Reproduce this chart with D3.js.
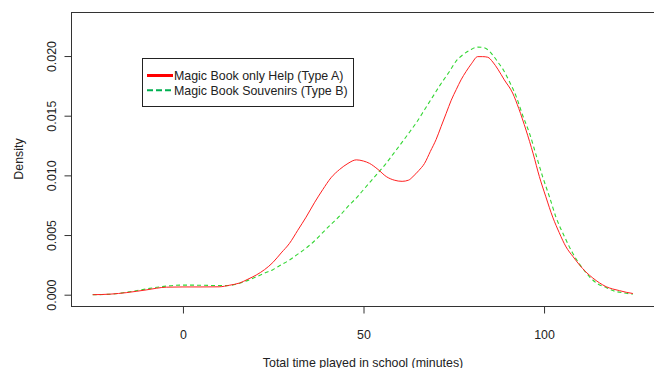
<!DOCTYPE html>
<html lang="en">
<head>
    <meta charset="UTF-8">
    <title>Density of time played</title>
    <script src="https://d3js.org/d3.v7.min.js"></script>
    <style>
        body {margin: 0; background: white;}
        svg {display: block;}
        text {
            font-family: "Liberation Sans", Arial, sans-serif;
            font-size: 12.4px;
            fill: #222;
        }
    </style>
</head>
<body>
<script>
    const width = 654;
    const height = 368;

    // density estimates: [minutes, density]
    const typeA = [[-25,0],[-20,0.00005],[-15.7,0.00017],[-10.2,0.0004],[-4.6,0.00063],[0,0.00065],[5,0.00065],[10,0.00066],
        [13,0.0008],[15.7,0.00098],[18,0.0013],[20.3,0.00165],[22.6,0.0021],[24.9,0.0027],[27.2,0.0035],[29.5,0.0043],
        [31.8,0.0054],[34.1,0.0065],[36.4,0.0077],[38.7,0.0088],[41,0.0098],[43.4,0.0105],[45.7,0.011],[48,0.0113],
        [50,0.0112],[51.7,0.011],[54,0.0105],[56.3,0.0099],[58.5,0.0096],[60.7,0.0095],[62.5,0.0096],[63.7,0.0099],
        [65.3,0.0104],[66.9,0.011],[68.5,0.012],[70.1,0.013],[71.5,0.0141],[72.9,0.0152],[74.3,0.0163],[75.7,0.0172],
        [77,0.018],[78.4,0.0187],[80,0.0194],[81.6,0.01995],[83,0.01995],[84.4,0.0199],[85.8,0.0195],[87.2,0.0189],
        [89,0.018],[91.3,0.0169],[93,0.0156],[95,0.0138],[97,0.0118],[98.7,0.0099],[100.5,0.0082],[102.4,0.0065],
        [104.2,0.0052],[106.1,0.004],[108,0.0032],[109.8,0.0025],[111.6,0.0019],[113.5,0.0014],[115.3,0.001],
        [117.2,0.00067],[119,0.00048],[120.9,0.00034],[122.8,0.0002],[124.6,0.0001]];

    const typeB = [[-25,0],[-20,0.00004],[-15.7,0.0002],[-10.2,0.00048],[-4.6,0.00072],[-0.9,0.0008],[3,0.0008],[7,0.00078],
        [12,0.00076],[15.7,0.00096],[18,0.0012],[20.3,0.0015],[22.6,0.0018],[24.9,0.0021],[27.2,0.0025],[29.5,0.0029],
        [31.8,0.0034],[34.1,0.0039],[36.4,0.0045],[38.7,0.0052],[41,0.0059],[43.4,0.0066],[45.7,0.0074],[48,0.0081],
        [50,0.0088],[52,0.0095],[54,0.0102],[56,0.0109],[58,0.0117],[60,0.0125],[62.2,0.0134],[64.6,0.0144],
        [66.9,0.0155],[69.2,0.0166],[71.5,0.0177],[73.8,0.0187],[75.7,0.0196],[77.5,0.0201],[79.5,0.0205],[81.6,0.02075],
        [83.3,0.0207],[84.9,0.0204],[86,0.02],[87.2,0.0195],[88.6,0.0189],[90.5,0.0178],[92.3,0.0166],[94,0.0151],
        [96,0.0135],[97.8,0.0117],[99.6,0.0099],[101.5,0.0082],[103.3,0.0065],[105.6,0.0049],[107.9,0.0035],
        [110.2,0.0024],[112.6,0.0015],[114.9,0.0009],[117.2,0.0006],[119.5,0.0003],[122,0.00015],[124.6,0.00005]];

    const xTicks = [0, 50, 100];
    const yTicks = [0, 0.005, 0.01, 0.015, 0.02];
    const legendLabels = ["Magic Book only Help (Type A)", "Magic Book Souvenirs (Type B)"];

    const plot = {left: 71, top: 12, right: 656, bottom: 306};
    const font = '"Liberation Sans", Arial, sans-serif';

    const svg = d3.select("body").append("svg")
            .attr("width", width).attr("height", height);

    const x = d3.scaleLinear().domain([-31, 131]).range([plot.left, plot.right]);
    const y = d3.scaleLinear().domain([-0.000947, 0.02369]).range([plot.bottom, plot.top]);

    const line = d3.line()
            .x(d => x(d[0]))
            .y(d => y(d[1]))
            .curve(d3.curveMonotoneX);

    // frame
    svg.append("rect")
            .attr("x", plot.left + 0.5).attr("y", plot.top + 0.5)
            .attr("width", plot.right - plot.left).attr("height", plot.bottom - plot.top)
            .style("fill", "none").style("stroke", "#333");

    // x axis (R style: line only across the ticks)
    const xAxis = svg.append("g").attr("transform", `translate(0,${plot.bottom + 0.5})`)
            .call(d3.axisBottom(x).tickValues(xTicks).tickSize(7).tickPadding(17).tickSizeOuter(0));
    xAxis.select(".domain").remove();
    xAxis.selectAll("line").style("stroke", "#333");
    xAxis.selectAll("text").style("font-size", "12.4px").style("fill", "#222").style("font-family", font);

    const yAxis = svg.append("g").attr("transform", `translate(${plot.left + 0.5},0)`)
            .call(d3.axisLeft(y).tickValues(yTicks).tickSize(7).tickFormat(d3.format(".3f")));
    yAxis.select(".domain").remove();
    yAxis.selectAll("line").style("stroke", "#333");
    yAxis.selectAll("text")
            .style("font-size", "12.4px").style("fill", "#222").style("font-family", font)
            .attr("x", null)
            .attr("text-anchor", "middle")
            .attr("transform", "translate(-20,0) rotate(-90)")
            .attr("dy", "0.35em");

    // axis titles
    svg.append("text")
            .attr("x", 363).attr("y", 367)
            .attr("text-anchor", "middle")
            .text("Total time played in school (minutes)");

    svg.append("text")
            .attr("transform", `translate(23,${(plot.top + plot.bottom) / 2}) rotate(-90)`)
            .attr("text-anchor", "middle")
            .text("Density");

    // density curves
    svg.append("path").datum(typeB)
            .attr("d", line)
            .style("fill", "none")
            .style("stroke", "#33d633")
            .style("stroke-width", 1.1)
            .style("stroke-dasharray", "4,3");

    svg.append("path").datum(typeA)
            .attr("d", line)
            .style("fill", "none")
            .style("stroke", "#ff2020")
            .style("stroke-width", 1);

    // legend
    const legend = svg.append("g");
    legend.append("rect")
            .attr("x", 142.5).attr("y", 58.5).attr("width", 211).attr("height", 48)
            .style("fill", "white").style("stroke", "#222");

    const legendStyles = [
        {color: "#ff0000", dash: null, width: 3},
        {color: "#00b050", dash: "6,3", width: 2}
    ];

    legend.selectAll("g.item")
            .data(legendLabels)
            .enter()
            .append("g")
            .attr("class", "item")
            .attr("transform", (d, i) => `translate(0,${75.5 + i * 14.7})`)
            .each(function(d, i) {
                const g = d3.select(this);
                g.append("line")
                        .attr("x1", 147).attr("x2", 173)
                        .style("stroke", legendStyles[i].color)
                        .style("stroke-width", legendStyles[i].width)
                        .style("stroke-dasharray", legendStyles[i].dash);
                g.append("text")
                        .attr("x", 174).attr("dy", "0.35em")
                        .text(d);
            });
</script>
</body>
</html>
